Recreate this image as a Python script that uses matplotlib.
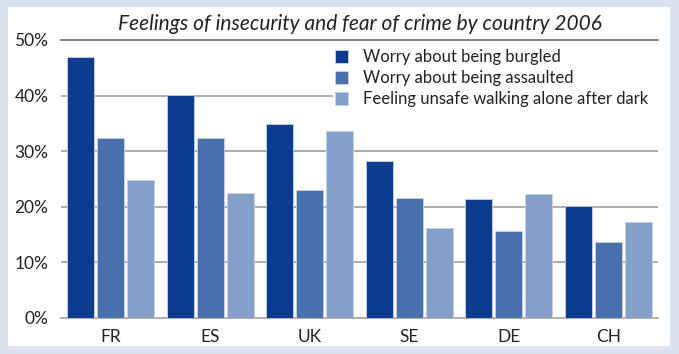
import matplotlib.pyplot as plt
import matplotlib.patches as mpatches
import numpy as np

countries = ["FR", "ES", "UK", "SE", "DE", "CH"]
burgled = [47.0, 40.1, 34.9, 28.3, 21.4, 20.1]
assaulted = [32.3, 32.4, 23.1, 21.6, 15.7, 13.7]
unsafe = [24.8, 22.4, 33.6, 16.1, 22.3, 17.3]
yticks = [0, 10, 20, 30, 40, 50]
ytickLabels = ["0%", "10%", "20%", "30%", "40%", "50%"]

plt.rcParams['font.family'] = ['Lato', 'DejaVu Sans']

fig = plt.figure(figsize=(6.79, 3.54), dpi=100, facecolor="#dbe2ef")
# white panel behind the axes
fig.patches.append(mpatches.Rectangle((8/679, 1 - 346/354), 662/679, 339/354,
                                      transform=fig.transFigure, facecolor="white",
                                      edgecolor="none", zorder=-10))

ax = fig.add_axes([61/679, 36/354, 597/679, 278/354], zorder=2)
ax.set_facecolor("none")

x = np.arange(len(countries))
w = 0.27
step = 0.3
ax.bar(x - step, burgled, w, color="#0d3b8e", edgecolor="#c6d2e8", linewidth=0.6,
       label="Worry about being burgled", zorder=3)
ax.bar(x, assaulted, w, color="#4a6fad", edgecolor="#c6d2e8", linewidth=0.6,
       label="Worry about being assaulted", zorder=3)
ax.bar(x + step, unsafe, w, color="#859fc8", edgecolor="#c6d2e8", linewidth=0.6,
       label="Feeling unsafe walking alone after dark", zorder=3)

ax.set_xlim(-0.5, 5.5)
ax.set_ylim(0, 50)
ax.set_yticks(yticks)
ax.set_yticklabels(ytickLabels, fontsize=12.5, color="#222222")
ax.set_xticks(x)
ax.set_xticklabels(countries, fontsize=12.5, color="#222222")
ax.tick_params(length=0)
ax.tick_params(axis="y", pad=9)
ax.tick_params(axis="x", pad=8)
for v in yticks[1:-1]:
    ax.axhline(v, color="#a0a0a0", linewidth=1.2, zorder=1)
ax.axhline(50, color="#707070", linewidth=1.2, zorder=1, clip_on=False)
for s in ["top", "right", "left"]:
    ax.spines[s].set_visible(False)
ax.spines["bottom"].set_color("#a0a0a0")
ax.spines["bottom"].set_linewidth(1.2)

ax.set_title("Feelings of insecurity and fear of crime by country 2006",
             fontsize=15, style="italic", color="#222222", pad=7)

# legend box is white and runs to the right edge, hiding the 40% gridline
leg = ax.legend(loc="upper left", bbox_to_anchor=(0.4556, 0.3, 0.545, 0.675),
                mode="expand", borderaxespad=0, frameon=True, fancybox=False,
                fontsize=12, handlelength=0.78, handleheight=0.78, handletextpad=0.9,
                labelspacing=0.3, borderpad=0.15)
leg.get_frame().set_facecolor("white")
leg.get_frame().set_edgecolor("white")
leg.get_frame().set_alpha(1)
for t in leg.get_texts():
    t.set_color("#222222")

fig.savefig("out.png", dpi=100, facecolor=fig.get_facecolor())
